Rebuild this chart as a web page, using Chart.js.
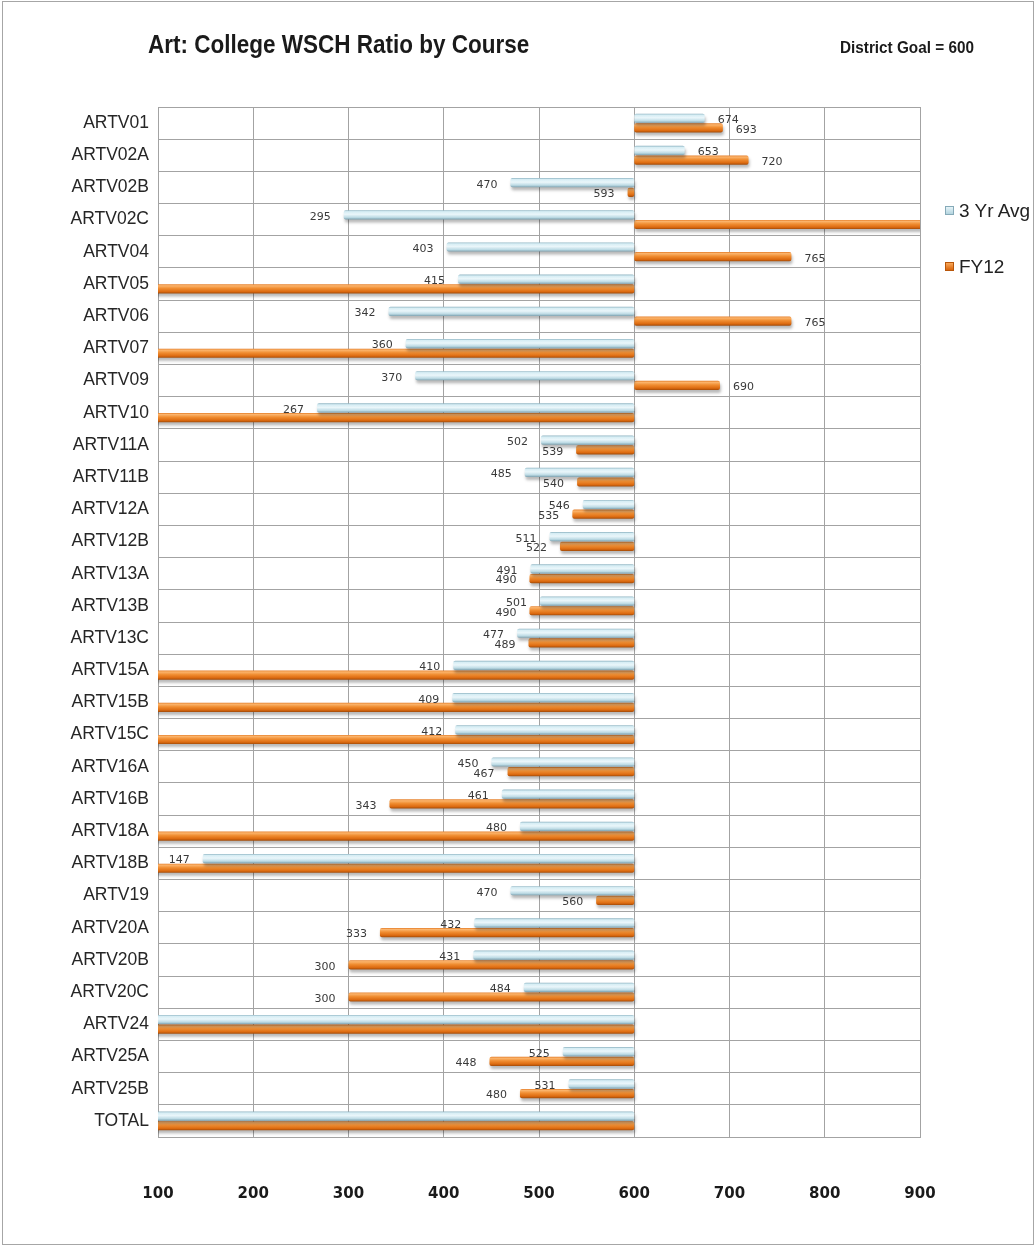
<!DOCTYPE html>
<html>
<head>
<meta charset="utf-8">
<script src="https://cdn.jsdelivr.net/npm/chart.js@4/dist/chart.umd.min.js"></script>
<style>
  html, body { margin: 0; padding: 0; background: #ffffff; }
  #wrap { position: relative; width: 1036px; height: 1247px; overflow: hidden; background: #fff; }
  #frame { position: absolute; left: 2px; top: 1px; width: 1032px; height: 1244px; border: 1px solid #a6a6a6; box-sizing: border-box; pointer-events: none; }
  #chart { position: absolute; left: 0; top: 0; }
  .txt { position: absolute; white-space: nowrap; color: #1a1a1a; font-family: 'Liberation Sans Narrow', 'Liberation Sans', Arial, sans-serif; line-height: 1; transform-origin: left center; }
  #title { left: 148px; top: 32px; font-size: 25px; font-weight: bold; transform: scaleX(0.9); }
  #goal { left: 840px; top: 39px; font-size: 17px; font-weight: bold; transform: scaleX(0.9); }
  .leg { left: 945px; font-size: 19px; color: #222; display: flex; align-items: center; }
  .sw { display: inline-block; width: 9px; height: 9px; margin-right: 5px; box-sizing: border-box; }
  #leg1 { top: 201px; }
  #leg2 { top: 257px; }
  #sw1 { background: linear-gradient(#e6f4f8, #b3d4df); border: 1px solid #86aab8; }
  #sw2 { background: linear-gradient(#f9a85a, #d8650c); border: 1px solid #b8560a; }
</style>
</head>
<body>
<div id="wrap">
  <canvas id="chart" width="1036" height="1247"></canvas>
  <div id="title" class="txt">Art: College WSCH Ratio by Course</div>
  <div id="goal" class="txt">District Goal = 600</div>
  <div id="leg1" class="txt leg"><span id="sw1" class="sw"></span>3 Yr Avg</div>
  <div id="leg2" class="txt leg"><span id="sw2" class="sw"></span>FY12</div>
  <div id="frame"></div>
</div>
<script>
// ---- data ----
const categories = ['ARTV01','ARTV02A','ARTV02B','ARTV02C','ARTV04','ARTV05','ARTV06','ARTV07','ARTV09','ARTV10',
  'ARTV11A','ARTV11B','ARTV12A','ARTV12B','ARTV13A','ARTV13B','ARTV13C','ARTV15A','ARTV15B','ARTV15C',
  'ARTV16A','ARTV16B','ARTV18A','ARTV18B','ARTV19','ARTV20A','ARTV20B','ARTV20C','ARTV24','ARTV25A','ARTV25B','TOTAL'];
const avg3yr = [674,653,470,295,403,415,342,360,370,267,
  502,485,546,511,491,501,477,410,409,412,
  450,461,480,147,470,432,431,484,0,525,531,0];
const fy12 = [693,720,593,1000,765,0,765,0,690,0,
  539,540,535,522,490,490,489,0,0,0,
  467,343,0,0,560,333,300,300,0,448,480,0];
const seriesNames = ['3 Yr Avg', 'FY12'];
const districtGoal = 600;
const axisMin = 100, axisMax = 900, axisStep = 100;

// ---- styling ----
const blueStops = [[0,'#8fb4c2'],[0.15,'#d6edf4'],[0.45,'#eaf6fa'],[0.78,'#bddbe5'],[1,'#7ea2b0']];
const orangeStops = [[0,'#e47d28'],[0.16,'#fbb46c'],[0.45,'#f08d31'],[0.8,'#dc6a10'],[1,'#a34b08']];

const barStyle = {
  id: 'barStyle',
  beforeDatasetDraw(chart, args) {
    const ctx = chart.ctx;
    const stops = args.index === 0 ? blueStops : orangeStops;
    args.meta.data.forEach(el => {
      const h = el.height;
      const g = ctx.createLinearGradient(0, el.y - h / 2, 0, el.y + h / 2);
      stops.forEach(s => g.addColorStop(s[0], s[1]));
      el.options = Object.assign({}, el.options, { backgroundColor: g });
    });
    ctx.save();
    ctx.shadowColor = 'rgba(0,0,0,0.28)';
    ctx.shadowOffsetX = 1;
    ctx.shadowOffsetY = 3;
    ctx.shadowBlur = 3;
  },
  afterDatasetDraw(chart) { chart.ctx.restore(); }
};

const valueLabels = {
  id: 'valueLabels',
  afterDatasetsDraw(chart) {
    const ctx = chart.ctx;
    const xs = chart.scales.x;
    ctx.save();
    ctx.font = '11px "DejaVu Sans", Verdana, sans-serif';
    ctx.fillStyle = '#3a3a3a';
    ctx.textBaseline = 'middle';
    chart.data.datasets.forEach((ds, di) => {
      const meta = chart.getDatasetMeta(di);
      meta.data.forEach((el, i) => {
        const v = ds.data[i][1];
        if (v < axisMin || v > axisMax) return;
        const dir = v >= districtGoal ? 1 : -1;
        ctx.textAlign = dir > 0 ? 'left' : 'right';
        ctx.fillText(String(v), xs.getPixelForValue(v) + dir * 13, el.y + 2);
      });
    });
    ctx.restore();
  }
};

const toRange = arr => arr.map(v => [districtGoal, v]);

new Chart(document.getElementById('chart'), {
  type: 'bar',
  data: {
    labels: categories,
    datasets: [
      { label: seriesNames[0], data: toRange(avg3yr), backgroundColor: '#dcedf3', borderWidth: 0, borderRadius: 2, borderSkipped: false },
      { label: seriesNames[1], data: toRange(fy12), backgroundColor: '#e8781e', borderWidth: 0, borderRadius: 2, borderSkipped: false }
    ]
  },
  options: {
    indexAxis: 'y',
    responsive: false,
    animation: false,
    events: [],
    categoryPercentage: 0.6,
    barPercentage: 0.95,
    layout: { padding: { top: 107, right: 116, bottom: 0, left: 0 } },
    plugins: { legend: { display: false }, tooltip: { enabled: false }, title: { display: false } },
    scales: {
      x: {
        min: axisMin, max: axisMax,
        ticks: { stepSize: axisStep, padding: 48, color: '#1a1a1a', font: { family: '"DejaVu Sans", sans-serif', size: 15, weight: 'bold' } },
        grid: { color: '#a3a3a3', lineWidth: 1, drawTicks: false },
        border: { color: '#a3a3a3' },
        afterFit(scale) { scale.height = 110; }
      },
      y: {
        ticks: { padding: 9, color: '#262626', font: { family: "'Liberation Sans Narrow', 'Liberation Sans', Arial, sans-serif", size: 17.5 } },
        grid: { color: '#a3a3a3', lineWidth: 1, drawTicks: false, offset: true },
        border: { color: '#a3a3a3' },
        afterFit(scale) { scale.width = 158; }
      }
    }
  },
  plugins: [barStyle, valueLabels]
});
</script>
</body>
</html>
